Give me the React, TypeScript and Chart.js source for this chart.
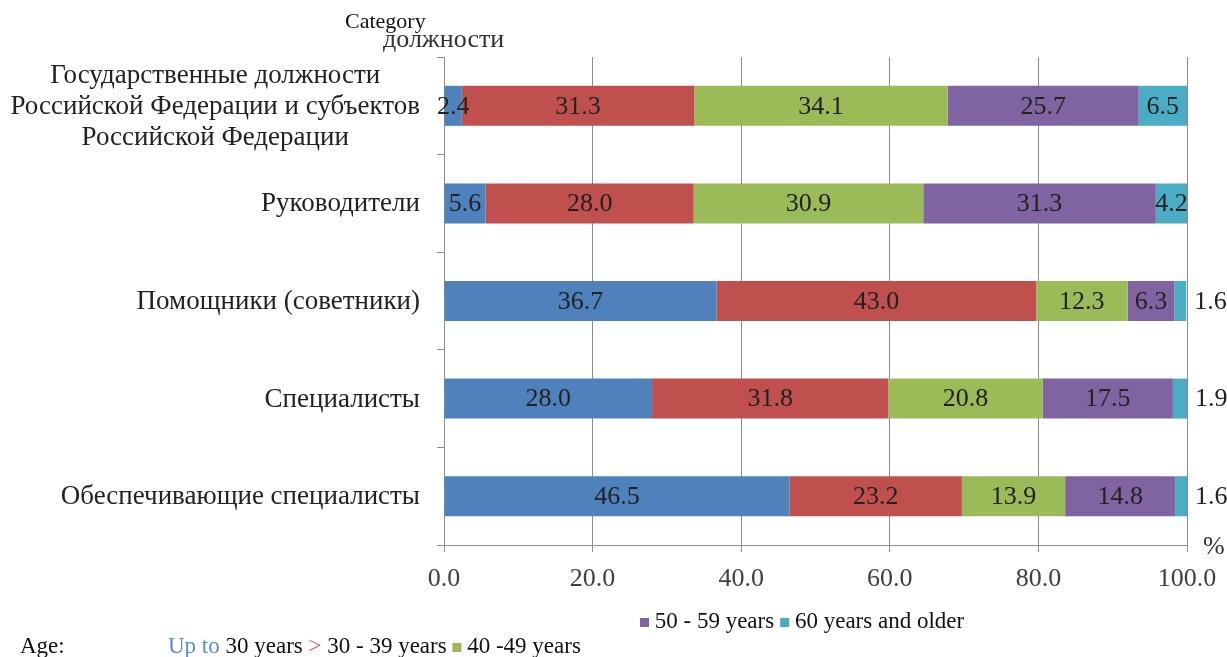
import React, { useEffect, useRef } from "react";
import { Chart, registerables } from "chart.js";

Chart.register(...registerables);

const categories: string[][] = [
  ["Государственные должности", "Российской Федерации и субъектов", "Российской Федерации"],
  ["Руководители"],
  ["Помощники (советники)"],
  ["Специалисты"],
  ["Обеспечивающие специалисты"],
];

const seriesNames = ["Up to 30 years", "30 - 39 years", "40 -49 years", "50 - 59 years", "60 years and older"];
const seriesColors = ["#4F81BD", "#C0504D", "#9BBB59", "#8064A2", "#4BACC6"];

const upTo30 = [2.4, 5.6, 36.7, 28.0, 46.5];
const age30to39 = [31.3, 28.0, 43.0, 31.8, 23.2];
const age40to49 = [34.1, 30.9, 12.3, 20.8, 13.9];
const age50to59 = [25.7, 31.3, 6.3, 17.5, 14.8];
const age60plus = [6.5, 4.2, 1.6, 1.9, 1.6];

const seriesValues = [upTo30, age30to39, age40to49, age50to59, age60plus];

const xTicks = [0, 20, 40, 60, 80, 100];

const FONT = "'Liberation Serif', 'Times New Roman', serif";
const FS = 26;

const overlayPlugin = {
  id: "overlay",
  afterDatasetsDraw(chart: any) {
    const ctx = chart.ctx as CanvasRenderingContext2D;
    ctx.save();
    ctx.font = `${FS}px ${FONT}`;
    ctx.fillStyle = "#222";
    ctx.textBaseline = "middle";
    chart.data.datasets.forEach((ds: any, i: number) => {
      const meta = chart.getDatasetMeta(i);
      meta.data.forEach((bar: any, j: number) => {
        const v = ds.data[j];
        const p = bar.getProps(["x", "y", "base"], true);
        const w = p.x - p.base;
        const txt = v.toFixed(1);
        if (w < 16) {
          ctx.textAlign = "left";
          ctx.fillText(txt, p.x + 8, p.y + 1);
        } else {
          ctx.textAlign = "center";
          ctx.fillText(txt, (p.x + p.base) / 2, p.y + 1);
        }
      });
    });
    ctx.restore();
  },
  afterDraw(chart: any) {
    const ctx = chart.ctx as CanvasRenderingContext2D;
    const yScale = chart.scales.y;
    const area = chart.chartArea;
    ctx.save();
    ctx.font = `27px ${FONT}`;
    ctx.fillStyle = "#222";
    ctx.textBaseline = "middle";
    const rightEdge = area.left - 24;
    categories.forEach((lines, j) => {
      const cy = yScale.getPixelForValue(j);
      const maxW = Math.max(...lines.map((l) => ctx.measureText(l).width));
      const cx = rightEdge - maxW / 2;
      const lh = 31;
      const startY = cy - ((lines.length - 1) * lh) / 2;
      ctx.textAlign = "center";
      lines.forEach((l, k) => ctx.fillText(l, cx, startY + k * lh + 1));
    });
    ctx.font = `${FS}px ${FONT}`;
    ctx.textAlign = "left";
    ctx.fillStyle = "#333";
    ctx.fillText("должности", 383, 40);
    ctx.font = `22px ${FONT}`;
    ctx.fillStyle = "#111";
    ctx.fillText("Category", 345, 22);
    ctx.font = `${FS}px ${FONT}`;
    ctx.fillStyle = "#333";
    ctx.fillText("%", area.right + 16, area.bottom + 2);

    ctx.font = `23px ${FONT}`;
    const sq = (x: number, y: number, c: string) => {
      ctx.fillStyle = c;
      ctx.fillRect(x, y - 4, 9, 9);
    };
    const txt = (s: string, x: number, y: number, c = "#111") => {
      ctx.fillStyle = c;
      ctx.fillText(s, x, y);
      return x + ctx.measureText(s).width;
    };
    let x = 640;
    const y1 = 622;
    sq(x, y1, seriesColors[3]);
    x = txt(" " + seriesNames[3], x + 9, y1);
    sq(x + 6, y1, seriesColors[4]);
    txt(" " + seriesNames[4], x + 15, y1);

    const y2 = 647;
    txt("Age:", 20, y2);
    x = 168;
    x = txt("Up to", x, y2, "#5B8BD0");
    x = txt(" 30 years ", x, y2);
    x = txt(">", x, y2, "#D0504D");
    x = txt(" 30 - 39 years ", x, y2);
    sq(x, y2, seriesColors[2]);
    txt(" 40 -49 years", x + 9, y2);
    ctx.restore();
  },
};

export default function App() {
  const canvasRef = useRef<HTMLCanvasElement | null>(null);

  useEffect(() => {
    if (!canvasRef.current) return;
    const chart = new Chart(canvasRef.current, {
      type: "bar",
      data: {
        labels: categories.map((c) => c.join(" ")),
        datasets: seriesValues.map((vals, i) => ({
          label: seriesNames[i],
          data: vals,
          backgroundColor: seriesColors[i],
          borderWidth: 0,
          barPercentage: 0.41,
          categoryPercentage: 1,
        })),
      },
      options: {
        indexAxis: "y",
        animation: false,
        responsive: true,
        maintainAspectRatio: false,
        layout: { padding: { top: 57, right: 40, left: 0, bottom: 0 } },
        plugins: {
          legend: { display: false },
          tooltip: { enabled: false },
        },
        scales: {
          x: {
            stacked: true,
            min: 0,
            max: 100,
            afterFit: (s: any) => {
              s.height = 112;
              s.paddingRight = 0;
              s.paddingLeft = 0;
            },
            afterBuildTicks: (s: any) => {
              s.ticks = xTicks.map((v) => ({ value: v }));
            },
            ticks: {
              font: { family: FONT, size: FS },
              color: "#404040",
              padding: 12,
              maxRotation: 0,
              callback: (v: any) => Number(v).toFixed(1),
            },
            grid: {
              color: "#8c8c8c",
              lineWidth: 1,
              drawTicks: true,
              tickLength: 7,
            },
            border: { color: "#8c8c8c", width: 1 },
          },
          y: {
            stacked: true,
            afterFit: (s: any) => {
              s.width = 444;
            },
            ticks: { display: false },
            grid: {
              drawOnChartArea: false,
              drawTicks: true,
              tickLength: 7,
              color: "#8c8c8c",
              offset: true,
            },
            border: { color: "#8c8c8c", width: 1 },
          },
        },
      },
      plugins: [overlayPlugin],
    });
    return () => chart.destroy();
  }, []);

  return (
    <div style={{ position: "absolute", left: 0, top: 0, width: 1227, height: 657 }}>
      <canvas ref={canvasRef} />
    </div>
  );
}
